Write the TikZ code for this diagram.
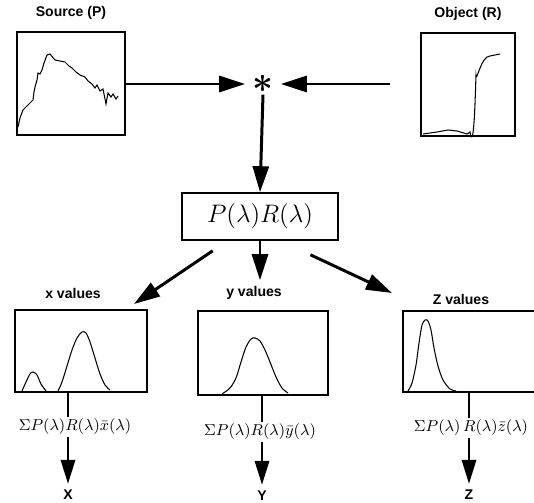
\documentclass[tikz,border=0pt]{standalone}
\usepackage{amsmath}
\usepackage{fontspec}
\setsansfont{Liberation Sans}
\usepackage{tikz}
\usetikzlibrary{arrows.meta,positioning,calc}

\begin{document}
\begin{tikzpicture}[x=0.02cm,y=-0.02cm, every node/.style={font=\sffamily\bfseries\footnotesize,align=center},
  chart/.style={draw,line width=1.1pt,inner sep=0pt},
  prodbox/.style={draw,line width=0.9pt,minimum width=3.12cm,minimum height=0.94cm,font=\Large},
  arr/.style={-{Triangle[length=5.2mm,width=3.2mm]},line width=1.7pt},
  sarr/.style={-{Triangle[length=4.8mm,width=2.8mm]},line width=1.7pt},
  stem/.style={line width=1.7pt},
  sumlbl/.style={font=\small,inner sep=1pt},
  curve/.style={line width=0.6pt}]
  \useasboundingbox (0,0) rectangle (534,503);
  \clip (0,0) rectangle (534,503);

  % top row: source and object spectra
  \node[chart,minimum width=2.16cm,minimum height=2.06cm] (src) at (71,83.5) {};
  \node[chart,minimum width=1.88cm,minimum height=2.06cm] (obj) at (468,84.5) {};
  \node[above=1mm of src] (srclbl) {Source (P)};
  \node[above=1mm of obj] (objlbl) {Object (R)};
  \node[font=\huge\boldmath,inner sep=1pt] (star) at (263,84) {$\ast$};

  \draw[curve] (18,127) -- (20,118) -- (23,110) -- (27,106) -- (33,100) -- (34,92) -- (35,87)
    -- (37,80) -- (38,73) -- (40,74) -- (42,70) -- (44,63) -- (47,55) -- (50,54) -- (55,60)
    -- (60,61) -- (65,62) -- (69,66) -- (72,68) -- (76,72) -- (80,75) -- (85,77) -- (88,81)
    -- (92,84) -- (95,88) -- (97,85) -- (100,91) -- (103,89) -- (106,104) -- (108,93)
    -- (111,97) -- (113,94) -- (116,99) -- (118,96);
  \draw[curve] (423,134) -- (437,132) -- (448,130) -- (457,131) -- (467,134) -- (470,132)
    to[out=-80,in=-92] (476,75) to[out=-88,in=180] (490,56) -- (500,54);

  \draw[arr,shorten >=3pt] (src.east |- star) -- (star.west);
  \draw[arr,shorten <=6mm,shorten >=3pt] (obj.west |- star) -- (star.east);

  % product
  \node[prodbox] (prod) at (260,216.5) {$P(\lambda)R(\lambda)$};
  \draw[arr] (star.south) -- (prod.north);

  % bottom row: tristimulus
  \node[chart,minimum width=2.64cm,minimum height=1.64cm] (xch) at (81,351) {};
  \node[chart,minimum width=2.6cm,minimum height=1.68cm] (ych) at (263,353) {};
  \node[chart,minimum width=2.8cm,minimum height=1.62cm] (zch) at (473,351.5) {};
  \node (xlbl) at (73,293) {x values};
  \node (ylbl) at (254,293) {y values};
  \node (zlbl) at (461,299) {Z values};

  \draw[curve] plot[smooth] coordinates {(22,391) (26,382) (30,374) (33,372) (37,375) (41,384) (46,391)};
  \draw[curve] plot[smooth] coordinates {(58,391) (62,382) (67,366) (72,350) (77,338) (82,332)
    (86,333) (90,342) (95,358) (100,374) (105,385) (110,390)};
  \draw[curve] plot[smooth] coordinates {(222,394) (230,388) (236,378) (241,362) (246,347) (251,339)
    (255,338) (260,341) (265,350) (270,362) (276,377) (282,388) (288,393)};
  \draw[curve] plot[smooth] coordinates {(408,391) (412,383) (416,365) (419,343) (422,325) (425,320)
    (428,321) (431,330) (434,348) (438,366) (443,380) (450,389) (456,391)};

  \coordinate (c1) at ($(prod.south west)!0.2!(prod.south east)+(0,10)$);
  \coordinate (c3) at ($(prod.south west)!0.82!(prod.south east)+(0,14)$);
  \draw[arr] (c1) -- (134,304);
  \draw[arr] (prod.south) -- (ylbl.north -| prod.south);
  \draw[arr] (c3) -- (392,293);

  % sums and outputs
  \node[sumlbl] (xf) at (75,427) {$\Sigma P(\lambda)R(\lambda)\bar{x}(\lambda)$};
  \node[sumlbl] (yf) at (260,432) {$\Sigma P(\lambda)R(\lambda)\bar{y}(\lambda)$};
  \node[sumlbl] (zf) at (471,428) {$\Sigma P(\lambda)\,R(\lambda)\bar{z}(\lambda)$};
  \node (xout) at (68,495) {X};
  \node (yout) at (262,496) {Y};
  \node (zout) at (469,495) {Z};

  \draw[stem] (xch.south -| xout) -- (xf.north -| xout);
  \draw[stem] (ych.south -| yout) -- (yf.north -| yout);
  \draw[stem] (zch.south -| zout) -- (zf.north -| zout);
  \draw[sarr] (xf.south -| xout) -- (xout.north);
  \draw[sarr] (yf.south -| yout) -- (yout.north);
  \draw[sarr] (zf.south -| zout) -- (zout.north);
\end{tikzpicture}
\end{document}
